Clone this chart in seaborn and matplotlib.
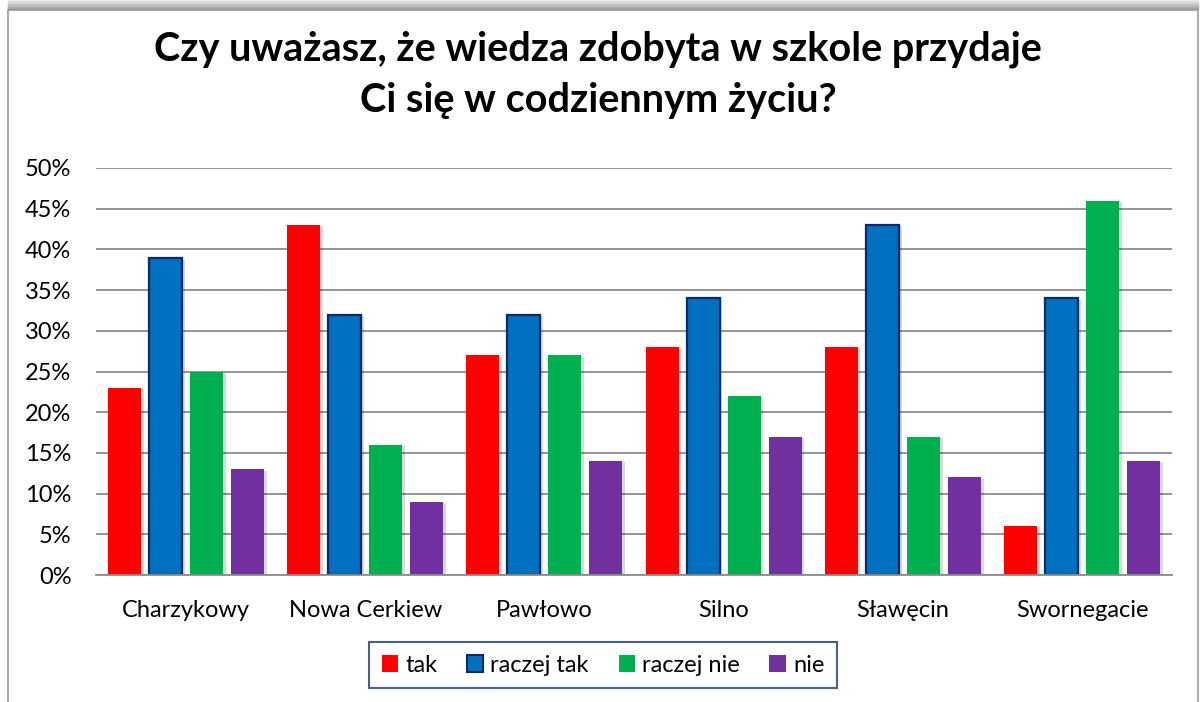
import matplotlib
matplotlib.use("Agg")
import matplotlib.pyplot as plt
import matplotlib.patches as mpatches
import matplotlib.patheffects as pe
from matplotlib.lines import Line2D
import seaborn as sns
import pandas as pd

# Survey answers per village (percent of respondents)
villages = ["Charzykowy", "Nowa Cerkiew", "Pawłowo", "Silno", "Sławęcin", "Swornegacie"]
answers = ["tak", "raczej tak", "raczej nie", "nie"]
tak = [23, 43, 27, 28, 28, 6]
raczej_tak = [39, 32, 32, 34, 43, 34]
raczej_nie = [25, 16, 27, 22, 17, 46]
nie = [13, 9, 14, 17, 12, 14]
y_ticks = [0, 5, 10, 15, 20, 25, 30, 35, 40, 45, 50]

colors = ["#FF0000", "#0070C0", "#00B050", "#7030A0"]
blue_edge = "#0B2A66"

rows = []
for ans, vals in zip(answers, [tak, raczej_tak, raczej_nie, nie]):
    for v, val in zip(villages, vals):
        rows.append({"village": v, "answer": ans, "value": val})
df = pd.DataFrame(rows)

plt.rcParams["font.family"] = ["Lato", "DejaVu Sans"]

W, H = 1200, 702
fig = plt.figure(figsize=(W / 100, H / 100), dpi=100)
fig.patch.set_facecolor("white")

# chart frame with a soft shadow along the top edge
for i in range(10):
    g = 0.93 - 0.035 * i
    fig.add_artist(Line2D([8 / W, 1198 / W], [1 - i / H, 1 - i / H],
                          color=(g, g, g), lw=1.0, transform=fig.transFigure))
fig.add_artist(mpatches.Rectangle((8 / W, -0.01), 1190 / W, 1 - 9.5 / H + 0.01,
                                  fill=False, edgecolor="#9a9a9a", lw=1.2,
                                  transform=fig.transFigure))

ax = fig.add_axes([96.4 / W, 1 - 575 / H, 1075.2 / W, 407 / H])
sns.barplot(data=df, x="village", y="value", hue="answer", hue_order=answers,
            order=villages, palette=colors, saturation=1, width=0.916, gap=0.197,
            ax=ax, legend=False, linewidth=0, errorbar=None)

shadow = [pe.withSimplePatchShadow(offset=(2, -1), shadow_rgbFace="k", alpha=0.15)]
for i, cont in enumerate(ax.containers):
    for bar in cont:
        bar.set_path_effects(shadow)
        if i == 1:
            bar.set_edgecolor(blue_edge)
            bar.set_linewidth(1.6)

ax.set_ylim(0, 50)
ax.set_xlim(-0.5, len(villages) - 0.5)
ax.set_yticks(y_ticks)
ax.set_yticklabels([f"{t}%" for t in y_ticks])
ax.yaxis.grid(True, color="#8c8c8c", lw=1.3)
ax.set_axisbelow(True)
for s in ["top", "right", "left"]:
    ax.spines[s].set_visible(False)
ax.spines["bottom"].set_color("#8c8c8c")
ax.spines["bottom"].set_linewidth(1.3)
ax.tick_params(axis="both", length=0, labelsize=17, colors="black")
ax.tick_params(axis="y", pad=18)
ax.tick_params(axis="x", pad=18)
ax.set_xlabel("")
ax.set_ylabel("")
ax.set_facecolor("none")

# title
fig.text(598 / W, 1 - 61 / H, "Czy uważasz, że wiedza zdobyta w szkole przydaje",
         ha="center", va="baseline", fontsize=28.5, fontweight="bold")
fig.text(598 / W, 1 - 112 / H, "Ci się w codziennym życiu?",
         ha="center", va="baseline", fontsize=28.5, fontweight="bold")

# legend
handles = [mpatches.Patch(facecolor=c, edgecolor=(blue_edge if i == 1 else c),
                          lw=(1.5 if i == 1 else 0)) for i, c in enumerate(colors)]
leg = fig.legend(handles, answers, loc="center", bbox_to_anchor=(603 / W, 1 - 665 / H),
                 ncol=4, fontsize=17, frameon=True, fancybox=False,
                 handlelength=0.7, handleheight=0.7, handletextpad=0.3,
                 columnspacing=1.25, borderpad=0.55, borderaxespad=0)
leg.get_frame().set_edgecolor("#1F3864")
leg.get_frame().set_linewidth(1.5)

fig.savefig("out.png", dpi=100)
